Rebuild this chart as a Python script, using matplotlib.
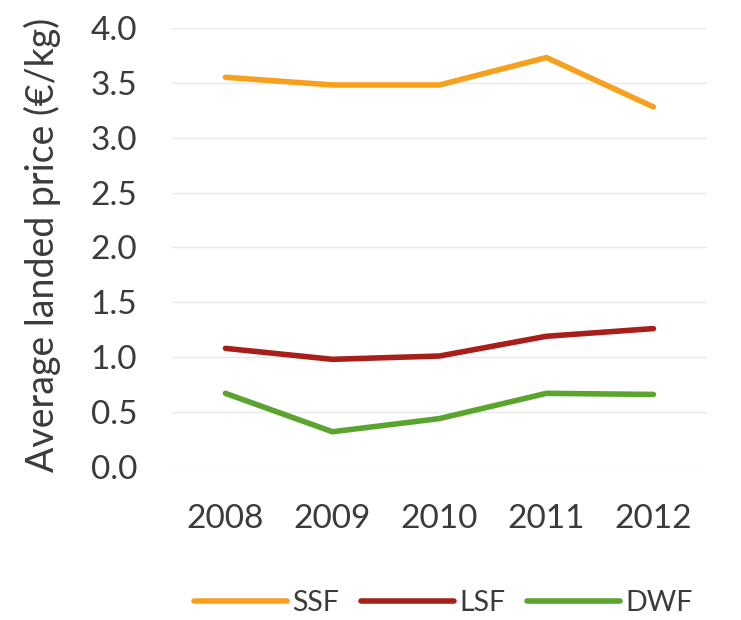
import matplotlib.pyplot as plt

plt.rcParams['font.family'] = ['Lato', 'DejaVu Sans']

years = ['2008', '2009', '2010', '2011', '2012']
ssf = [3.55, 3.48, 3.48, 3.73, 3.28]
lsf = [1.08, 0.98, 1.01, 1.19, 1.26]
dwf = [0.67, 0.32, 0.44, 0.67, 0.66]

text_color = '#3b3b3b'

fig = plt.figure(figsize=(7.41, 6.2), dpi=100)
ax = fig.add_axes([0.232, 0.247, 0.722, 0.708])

x = range(len(years))
ax.plot(x, ssf, color='#F7A01C', lw=4, label='SSF', solid_capstyle='round')
ax.plot(x, lsf, color='#A81F1A', lw=4, label='LSF', solid_capstyle='round')
ax.plot(x, dwf, color='#5BA52E', lw=4, label='DWF', solid_capstyle='round')

ax.set_xlim(-0.5, len(years) - 0.5)
ax.set_ylim(0, 4.0)
ax.set_yticks([i * 0.5 for i in range(9)])
ax.set_yticklabels([f'{i * 0.5:.1f}' for i in range(9)])
ax.set_xticks(list(x))
ax.set_xticklabels(years)
ax.tick_params(length=0, labelsize=24, colors=text_color)
ax.tick_params(axis='y', pad=25)
ax.tick_params(axis='x', pad=27)
ax.grid(axis='y', color='#e8e8e8', lw=1)
ax.set_axisbelow(True)
for s in ax.spines.values():
    s.set_visible(False)

fig.text(42 / 741, 1 - 245 / 620, 'Average landed price (€/kg)', rotation=90,
         ha='center', va='center', fontsize=27, color=text_color)

leg = fig.legend(loc='center', bbox_to_anchor=(0.5985, 0.027), ncol=3, frameon=False,
                 fontsize=20.5, handlelength=3.26, handletextpad=0.18, columnspacing=0.77)
for t in leg.get_texts():
    t.set_color(text_color)

fig.savefig('out.png', dpi=100)
